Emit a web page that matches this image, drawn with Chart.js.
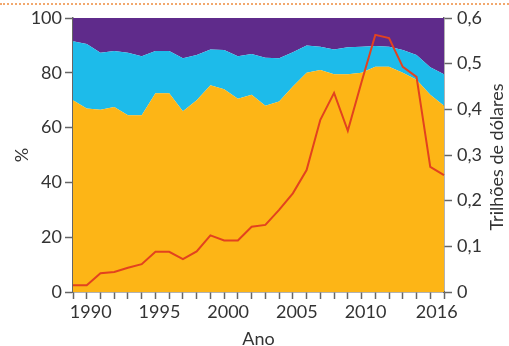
<!DOCTYPE html>
<html>
<head>
<meta charset="utf-8">
<script src="https://cdn.jsdelivr.net/npm/chart.js@4.4.0/dist/chart.umd.min.js"></script>
<style>
    html, body { margin: 0; padding: 0; background: #fff; }
    #wrap { position: relative; width: 509px; height: 346px; }
    #dots { position: absolute; left: 0; top: 3px; width: 509px; border-top: 2px dotted #f2a86e; }
    canvas { position: absolute; left: 0; top: 0; }
</style>
</head>
<body>
<div id="wrap">
    <canvas id="chart" width="509" height="346"></canvas>
    <div id="dots"></div>
</div>
<script>
const years = ['1989', '1990', '1991', '1992', '1993', '1994', '1995', '1996', '1997', '1998',
    '1999', '2000', '2001', '2002', '2003', '2004', '2005', '2006', '2007', '2008',
    '2009', '2010', '2011', '2012', '2013', '2014', '2015', '2016'];
const shownYears = ['1990', '1995', '2000', '2005', '2010', '2016'];

// upper edge of the yellow band (%)
const yellowTop = [70, 67, 66.5, 67.5, 64.5, 64.5, 72.5, 72.5, 66, 70,
    75.5, 74, 70.5, 72, 68, 69.5, 75, 80, 81, 79.5,
    79.5, 80, 82.2, 82.2, 80, 77.5, 72, 68];
// upper edge of the blue band (%), purple above it up to 100
const cyanTop = [91.5, 90.5, 87.3, 88, 87.3, 86, 88, 88, 85.3, 86.5,
    88.5, 88.3, 86, 86.9, 85.5, 85.3, 87.5, 90, 89.5, 88.5,
    89.3, 89.5, 89.8, 89.5, 88.3, 86.5, 82, 79.5];
// red line, trillions of dollars (right axis)
const trillions = [0.015, 0.015, 0.041, 0.044, 0.053, 0.061, 0.088, 0.088, 0.072, 0.089,
    0.124, 0.113, 0.113, 0.143, 0.147, 0.18, 0.216, 0.267, 0.377, 0.436,
    0.353, 0.46, 0.563, 0.556, 0.493, 0.471, 0.274, 0.256];

const textColor = '#333';
const axisColor = '#666';
const font = { family: 'Lato', size: 18 };

// right axis title reads bottom-to-top, so draw it ourselves
const rightTitle = {
    id: 'rightTitle',
    afterDraw(chart) {
        const ctx = chart.ctx;
        const area = chart.chartArea;
        ctx.save();
        ctx.translate(497, (area.top + area.bottom) / 2 + 2);
        ctx.rotate(-Math.PI / 2);
        ctx.fillStyle = textColor;
        ctx.font = '18px Lato';
        ctx.textAlign = 'center';
        ctx.textBaseline = 'middle';
        ctx.fillText('Trilhões de dólares', 0, 0);
        ctx.restore();
    }
};

const ctx = document.getElementById('chart').getContext('2d');
new Chart(ctx, {
    type: 'line',
    data: {
        labels: years,
        datasets: [{
            label: 'Trilhões de dólares',
            data: trillions,
            yAxisID: 'y1',
            borderColor: '#e2421f',
            borderWidth: 2,
            pointRadius: 0,
            fill: false,
            order: 0
        }, {
            data: yellowTop,
            yAxisID: 'y',
            backgroundColor: '#fdb516',
            borderWidth: 0,
            pointRadius: 0,
            fill: 'origin',
            order: 1
        }, {
            data: cyanTop,
            yAxisID: 'y',
            backgroundColor: '#1dbbea',
            borderWidth: 0,
            pointRadius: 0,
            fill: '-1',
            order: 2
        }, {
            data: cyanTop,
            yAxisID: 'y',
            backgroundColor: '#5f2b8b',
            borderWidth: 0,
            pointRadius: 0,
            fill: 'end',
            order: 3
        }]
    },
    options: {
        responsive: false,
        animation: false,
        layout: { padding: { top: 18, left: 0, right: 0, bottom: 0 } },
        plugins: { legend: { display: false }, tooltip: { enabled: false } },
        scales: {
            x: {
                offset: false,
                grid: { drawOnChartArea: false, tickLength: 7, color: axisColor, tickWidth: 1.5 },
                border: { color: axisColor, width: 1.5 },
                ticks: {
                    autoSkip: false,
                    maxRotation: 0,
                    color: textColor,
                    font: font,
                    padding: 2,
                    labelOffset: 4,
                    callback: function(value) {
                        const y = this.getLabelForValue(value);
                        if (y === '2016') return '2016\u2003\u2002'; // sits left of its tick in the original
                        return shownYears.includes(y) ? y : '';
                    }
                },
                title: { display: true, text: 'Ano', color: textColor, font: font, padding: { top: 0, bottom: -4 } },
                afterFit: s => { s.height = 54; }
            },
            y: {
                position: 'left',
                min: 0,
                max: 100,
                grid: { drawOnChartArea: false, tickLength: 8, color: axisColor, tickWidth: 1.5 },
                border: { color: axisColor, width: 1.5 },
                ticks: { stepSize: 20, color: textColor, font: font, padding: 3 },
                title: { display: true, text: '%', color: textColor, font: font, padding: 11 },
                afterFit: s => { s.width = 73; }
            },
            y1: {
                position: 'right',
                min: 0,
                max: 0.6,
                grid: { drawOnChartArea: false, tickLength: 8, color: axisColor, tickWidth: 1.5 },
                border: { color: axisColor, width: 1.5 },
                ticks: {
                    stepSize: 0.1,
                    color: textColor,
                    font: font,
                    padding: 5,
                    callback: v => v === 0 ? '0' : v.toFixed(1).replace('.', ',')
                },
                afterFit: s => { s.width = 65; }
            }
        }
    },
    plugins: [rightTitle]
});
</script>
</body>
</html>
